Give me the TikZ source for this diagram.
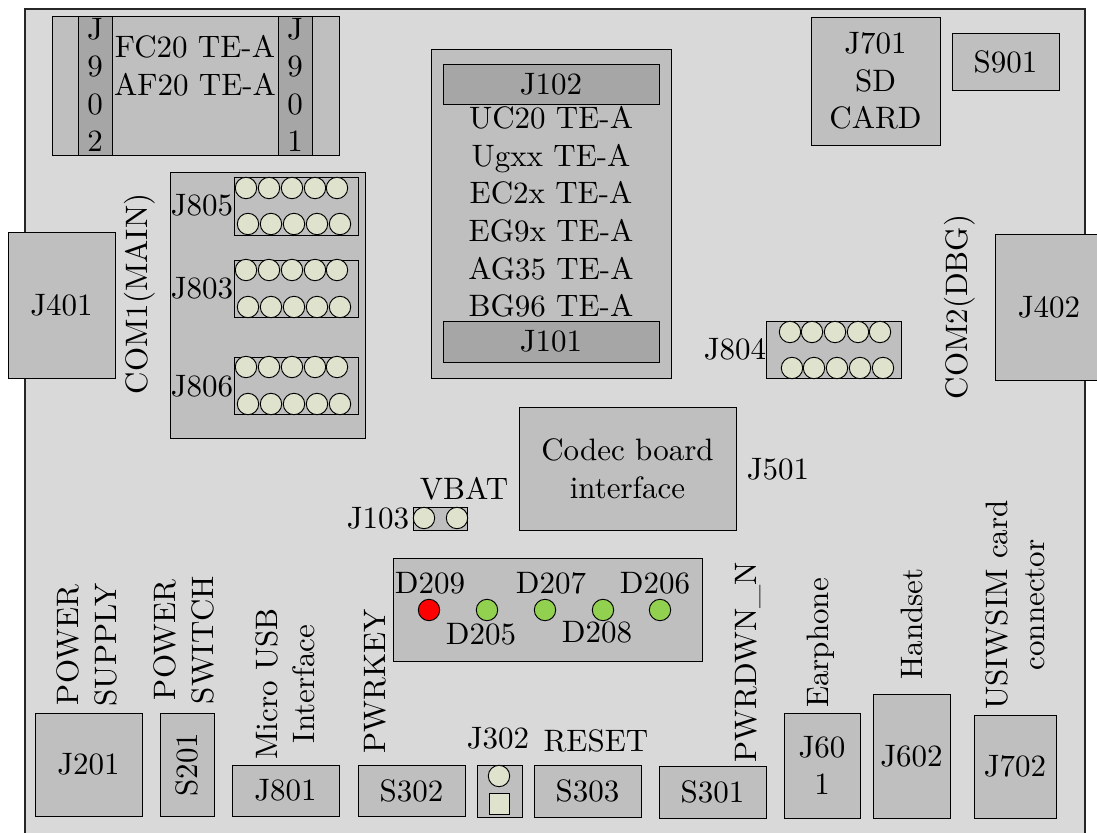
\documentclass[tikz,border=0pt]{standalone}
\definecolor{board}{HTML}{D9D9D9}
\definecolor{part}{HTML}{BFBFBF}
\definecolor{conn}{HTML}{A6A6A6}
\definecolor{pin}{HTML}{DFE2CD}
\definecolor{ledgreen}{HTML}{92D050}
\newcommand{\ux}{0.3226}
\tikzset{
  every node/.style={font=\fontsize{10}{12.1}\selectfont,inner sep=0pt,align=center},
  partbox/.style={draw=black,line width=.3pt,fill=part},
  connbox/.style={draw=black,line width=.3pt,fill=conn},
  pinc/.style={circle,draw=black,line width=.3pt,fill=pin,minimum size=6.9pt},
  pins/.style={rectangle,draw=black,line width=.3pt,fill=pin,minimum size=6.6pt},
  led/.style={circle,draw=black,line width=.3pt,fill=ledgreen,minimum size=6.9pt},
  ledred/.style={led,fill=red},
  vlab/.style={rotate=90}
}
% #1 style, #2 name, #3 x1, #4 y1, #5 x2, #6 y2, #7 text
\newcommand{\bx}[7]{%
  \pgfmathsetmacro{\bw}{(#5-#3)*\ux}\pgfmathsetmacro{\bh}{(#6-#4)*\ux}%
  \pgfmathsetmacro{\cx}{(#3+#5)/2}\pgfmathsetmacro{\cy}{(#4+#6)/2}%
  \node[#1,minimum width=\bw pt,minimum height=\bh pt] (#2) at (\cx,\cy) {#7};}
\newcommand{\pinrow}[7]{%
  \node[pinc] (#1a) at (#3,#2) {};\node[pinc] (#1b) at (#4,#2) {};\node[pinc] (#1c) at (#5,#2) {};\node[pinc] (#1d) at (#6,#2) {};\node[pinc] (#1e) at (#7,#2) {};}
\begin{document}
\begin{tikzpicture}[x=\ux pt,y=-\ux pt]
\useasboundingbox (0,0) rectangle (1097,833);
\clip (0,0) rectangle (1097,833);
\bx{draw=black!85,line width=.4pt,fill=board}{board}{25}{9}{1085}{850}{}
% top left module
\bx{partbox}{modleft}{52}{16}{339}{155}{}
\bx{connbox}{jnineotwo}{78}{16}{112}{155}{}
\bx{connbox}{jnineoone}{278}{16}{312}{155}{}
\node (tjnineotwo) at (95,85) {J\\9\\0\\2};
\node (tjnineoone) at (295,85) {J\\9\\0\\1};
\node (fcaf) at (195,66) {FC20 TE-A\\AF20 TE-A};
% jumper panel
\bx{partbox}{jpanel}{170}{172}{365}{438}{}
\bx{partbox}{jeightofive}{234}{177}{358}{235}{}
\bx{partbox}{jeightothree}{234}{260}{358}{317}{}
\bx{partbox}{jeightosix}{234}{357}{358}{414}{}
\pinrow{pa}{188}{246}{269}{292}{315}{337}
\pinrow{pb}{224}{248}{271}{294}{317}{340}
\pinrow{pc}{270}{246}{269}{292}{315}{337}
\pinrow{pd}{307}{248}{271}{294}{317}{340}
\pinrow{pe}{367}{246}{269}{292}{315}{337}
\pinrow{pf}{404}{248}{271}{294}{317}{340}
\node (ljeightofive) at (202,205) {J805};
\node (ljeightothree) at (202,288) {J803};
\node (ljeightosix) at (202,386) {J806};
% centre module
\bx{partbox}{cmod}{431}{49}{671}{378}{}
\bx{connbox}{jonetwo}{443}{64}{659}{104}{J102}
\bx{connbox}{joneone}{443}{321}{659}{362}{J101}
\node (mods) at (551,212) {UC20 TE-A\\Ugxx TE-A\\EC2x TE-A\\EG9x TE-A\\AG35 TE-A\\BG96 TE-A};
% top right
\bx{partbox}{jsevenone}{811}{17}{940}{145}{J701\\SD\\CARD}
\bx{partbox}{snine}{952}{33}{1059}{90}{S901}
% side connectors
\bx{partbox}{jfourone}{8}{232}{115}{378}{J401}
\bx{partbox}{jfourtwo}{995}{234}{1110}{380}{}
\node (tjfourtwo) at (1049,307) {J402};
\node[vlab] (comone) at (140,294) {COM1(MAIN)};
\node[vlab] (comtwo) at (960,307) {COM2(DBG)};
% J804
\bx{partbox}{jeightofour}{766}{321}{901}{378}{}
\pinrow{pg}{332}{790}{812}{835}{858}{880}
\pinrow{ph}{368}{792}{814}{837}{860}{883}
\node (ljeightofour) at (735,349) {J804};
% codec
\bx{partbox}{codec}{519}{407}{736}{530}{Codec board\\interface}
\node (jfiveone) at (778,469) {J501};
% VBAT
\bx{partbox}{jonethree}{413}{507}{467}{530}{}
\node[pinc] (vpa) at (424,518) {};
\node[pinc] (vpb) at (457,518) {};
\node (vbat) at (464,489) {VBAT};
\node (ljonethree) at (378,518) {J103};
% LEDs
\bx{partbox}{ledpanel}{393}{558}{702}{661}{}
\node[ledred] (lnine) at (429,610) {};
\node[led] (lfive) at (487,610) {};
\node[led] (lseven) at (545,610) {};
\node[led] (leight) at (603,610) {};
\node[led] (lsix) at (660,610) {};
\node (dnine) at (430,583) {D209};
\node (dfive) at (481,634) {D205};
\node (dseven) at (551,583) {D207};
\node (deight) at (597,632) {D208};
\node (dsix) at (655,583) {D206};
% bottom row
\bx{partbox}{jtwo}{35}{713}{142}{816}{J201}
\bx{partbox}{stwo}{160}{713}{214}{816}{\rotatebox{90}{S201}}
\bx{partbox}{jeightone}{232}{765}{339}{816}{J801}
\bx{partbox}{sthreetwo}{358}{765}{465}{816}{S302}
\bx{partbox}{jthree}{477}{765}{522}{817}{}
\node[pinc] (jthreea) at (499,776) {};
\node[pins] (jthreeb) at (499.5,804) {};
\bx{partbox}{sthreethree}{534}{765}{641}{817}{S303}
\bx{partbox}{sthreeone}{659}{766}{766}{818}{S301}
\bx{partbox}{jsixone}{784}{713}{860}{818}{J60\\1}
\bx{partbox}{jsixtwo}{873}{694}{950}{818}{J602}
\bx{partbox}{jseventwo}{974}{715}{1056}{818}{J702}
\node (ljthree) at (498,738) {J302};
\node (reset) at (596,741) {RESET};
\node[vlab] (psupply) at (87,645) {POWER\\SUPPLY};
\node[vlab] (pswitch) at (184,640) {POWER\\SWITCH};
\node[vlab] (musb) at (285,684) {Micro USB\\Interface};
\node[vlab] (pwrkey) at (375,681) {PWRKEY};
\node[vlab] (pwrdwn) at (748,662) {PWRDWN\_N};
\node[vlab] (earphone) at (821,643) {Earphone};
\node[vlab] (handset) at (912,624) {Handset};
\node[vlab] (usim) at (1015,605) {USIWSIM card\\connector};
\end{tikzpicture}
\end{document}
